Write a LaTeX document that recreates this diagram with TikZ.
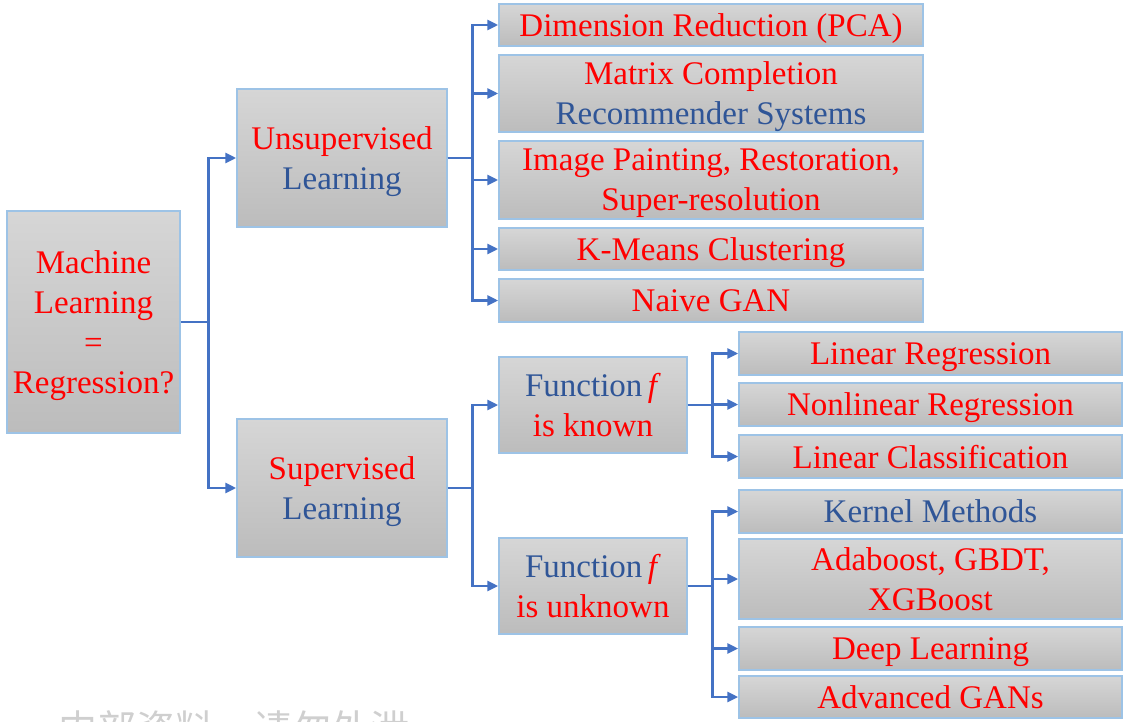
\documentclass[tikz,border=0pt]{standalone}
\usepackage{fontspec}
\setmainfont{Liberation Serif}
\newfontfamily\cjkfont{Noto Sans CJK SC}
\usetikzlibrary{arrows.meta}
\definecolor{MLRed}{HTML}{FF0000}
\definecolor{MLBlue}{HTML}{2F5597}
\definecolor{LinkBlue}{HTML}{4472C4}
\definecolor{BoxTop}{HTML}{D6D6D6}
\definecolor{BoxBottom}{HTML}{BCBCBC}
\definecolor{BoxEdge}{HTML}{9DC3E6}
\definecolor{MarkGray}{HTML}{CFCFCF}
\newcommand{\fn}{\textcolor{MLBlue}{Function}\,\textit{f}}
\begin{document}
\begin{tikzpicture}[x=1pt,y=-1pt,
  box/.style={draw=BoxEdge,line width=1.5pt,top color=BoxTop,bottom color=BoxBottom,
              align=center,inner sep=0pt,text=MLRed,font=\fontsize{33}{40}\selectfont,
              text depth=0pt},
  leaf/.style={box,minimum width=424pt},
  leaftwo/.style={box,minimum width=383pt},
  arrow/.style={-{Triangle[length=11pt,width=10pt]},line width=2.8pt,draw=LinkBlue}
]
  \useasboundingbox (0,0) rectangle (1126,722);
  % root and first split
  \node[box,minimum width=173pt,minimum height=222pt] (ml) at (93.5,322) {Machine\\Learning\\=\\Regression?};
  \node[box,minimum width=210pt,minimum height=138pt] (unsup) at (342,158) {Unsupervised\\\textcolor{MLBlue}{Learning}};
  \node[box,minimum width=210pt,minimum height=138pt] (sup) at (342,488) {Supervised\\\textcolor{MLBlue}{Learning}};
  % unsupervised tasks
  \node[leaf,minimum height=42pt] (dimred) at (711,25) {Dimension Reduction (PCA)};
  \node[leaf,minimum height=77pt] (matrix) at (711,93.5) {Matrix Completion\\\textcolor{MLBlue}{Recommender Systems}};
  \node[leaf,minimum height=78pt] (image) at (711,180) {Image Painting, Restoration,\\Super-resolution};
  \node[leaf,minimum height=42pt] (kmeans) at (711,249) {K-Means Clustering};
  \node[leaf,minimum height=43pt] (naive) at (711,300.5) {Naive GAN};
  % supervised
  \node[box,minimum width=188pt,minimum height=96pt] (known) at (593,405) {\fn\\is known};
  \node[box,minimum width=188pt,minimum height=96pt] (unknown) at (593,586) {\fn\\is unknown};
  \node[leaftwo,minimum height=43pt] (linreg) at (930.5,353.5) {Linear Regression};
  \node[leaftwo,minimum height=43pt] (nonlin) at (930.5,404.5) {Nonlinear Regression};
  \node[leaftwo,minimum height=43pt] (lincls) at (930.5,456.5) {Linear Classification};
  \node[leaftwo,minimum height=43pt] (kernel) at (930.5,511.5) {\textcolor{MLBlue}{Kernel Methods}};
  \node[leaftwo,minimum height=80pt] (ada) at (930.5,579) {Adaboost, GBDT,\\XGBoost};
  \node[leaftwo,minimum height=43pt] (deep) at (930.5,648.5) {Deep Learning};
  \node[leaftwo,minimum height=42pt] (adv) at (930.5,697) {Advanced GANs};
  % connectors
  \foreach \t in {unsup,sup} \draw[arrow] (ml.east) -- ++(28,0) |- (\t.west);
  \foreach \t in {dimred,matrix,image,kmeans,naive} \draw[arrow] (unsup.east) -- ++(25,0) |- (\t.west);
  \foreach \t in {known,unknown} \draw[arrow] (sup.east) -- ++(25,0) |- (\t.west);
  \foreach \t in {linreg,nonlin,lincls} \draw[arrow] (known.east) -- ++(25,0) |- (\t.west);
  \foreach \t in {kernel,ada,deep,adv} \draw[arrow] (unknown.east) -- ++(25,0) |- (\t.west);
  % watermark, cut by the page edge
  \begin{scope}
    \clip (0,0) rectangle (1126,722);
    \node[anchor=north west,inner sep=0pt,text=MarkGray,font=\cjkfont\fontsize{39}{39}\selectfont] (mark) at (58,710) {内部资料，请勿外泄};
  \end{scope}
\end{tikzpicture}
\end{document}
